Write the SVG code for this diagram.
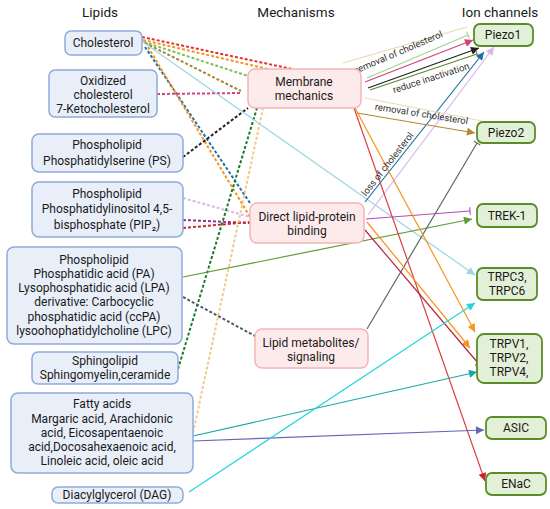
<svg xmlns="http://www.w3.org/2000/svg" width="550" height="509" viewBox="0 0 550 509">
<style>
text{font-family:Roboto,"Liberation Sans",sans-serif;fill:#1a1a1a;font-size:12px;text-anchor:middle}
.h{font-size:13.5px}
.lbl{font-size:9.5px;fill:#333}
.lip{fill:#e9eff9;stroke:#8eaadb;stroke-width:1.5}
.mec{fill:#fdeaea;stroke:#f5b5b5;stroke-width:1.5}
.ion{fill:#e3f0d8;stroke:#5b8c2a;stroke-width:1.8}
.d{fill:none;stroke-width:2;stroke-dasharray:3 2}
.s{fill:none;stroke-width:1.2}
</style>
<defs>
<marker id="aBk" viewBox="0 0 10 10" refX="10" refY="5" markerWidth="9" markerHeight="8" markerUnits="userSpaceOnUse" orient="auto"><path d="M0,0L10,5L0,10z" fill="#222"/></marker>
<marker id="aMg" viewBox="0 0 10 10" refX="10" refY="5" markerWidth="9" markerHeight="8" markerUnits="userSpaceOnUse" orient="auto"><path d="M0,0L10,5L0,10z" fill="#d63f7c"/></marker>
<marker id="aBl" viewBox="0 0 10 10" refX="10" refY="5" markerWidth="9" markerHeight="8" markerUnits="userSpaceOnUse" orient="auto"><path d="M0,0L10,5L0,10z" fill="#1f6fa0"/></marker>
<marker id="aLv" viewBox="0 0 10 10" refX="10" refY="5" markerWidth="9" markerHeight="8" markerUnits="userSpaceOnUse" orient="auto"><path d="M0,0L10,5L0,10z" fill="#d8b6ec"/></marker>
<marker id="aGd" viewBox="0 0 10 10" refX="10" refY="5" markerWidth="9" markerHeight="8" markerUnits="userSpaceOnUse" orient="auto"><path d="M0,0L10,5L0,10z" fill="#b8862e"/></marker>
<marker id="aOl" viewBox="0 0 10 10" refX="10" refY="5" markerWidth="9" markerHeight="8" markerUnits="userSpaceOnUse" orient="auto"><path d="M0,0L10,5L0,10z" fill="#5e9a36"/></marker>
<marker id="aLc" viewBox="0 0 10 10" refX="10" refY="5" markerWidth="9" markerHeight="8" markerUnits="userSpaceOnUse" orient="auto"><path d="M0,0L10,5L0,10z" fill="#9bd5e0"/></marker>
<marker id="aOr" viewBox="0 0 10 10" refX="10" refY="5" markerWidth="9" markerHeight="8" markerUnits="userSpaceOnUse" orient="auto"><path d="M0,0L10,5L0,10z" fill="#f7941d"/></marker>
<marker id="aRd" viewBox="0 0 10 10" refX="10" refY="5" markerWidth="9" markerHeight="8" markerUnits="userSpaceOnUse" orient="auto"><path d="M0,0L10,5L0,10z" fill="#c8262c"/></marker>
<marker id="aTl" viewBox="0 0 10 10" refX="10" refY="5" markerWidth="9" markerHeight="8" markerUnits="userSpaceOnUse" orient="auto"><path d="M0,0L10,5L0,10z" fill="#1aa5a8"/></marker>
<marker id="aPu" viewBox="0 0 10 10" refX="10" refY="5" markerWidth="9" markerHeight="8" markerUnits="userSpaceOnUse" orient="auto"><path d="M0,0L10,5L0,10z" fill="#6666b5"/></marker>
<marker id="aCy" viewBox="0 0 10 10" refX="10" refY="5" markerWidth="9" markerHeight="8" markerUnits="userSpaceOnUse" orient="auto"><path d="M0,0L10,5L0,10z" fill="#25d5d5"/></marker>
<marker id="tLg" viewBox="0 0 4 10" refX="2" refY="5" markerWidth="3" markerHeight="8" markerUnits="userSpaceOnUse" orient="auto"><path d="M2,0L2,10" stroke="#9ed88a" stroke-width="1.5"/></marker>
<marker id="tOl" viewBox="0 0 4 10" refX="2" refY="5" markerWidth="3" markerHeight="8" markerUnits="userSpaceOnUse" orient="auto"><path d="M2,0L2,10" stroke="#5b8a30" stroke-width="1.5"/></marker>
<marker id="tGy" viewBox="0 0 4 10" refX="2" refY="5" markerWidth="3" markerHeight="8" markerUnits="userSpaceOnUse" orient="auto"><path d="M2,0L2,10" stroke="#666" stroke-width="1.5"/></marker>
<marker id="tPk" viewBox="0 0 4 10" refX="2" refY="5" markerWidth="3" markerHeight="8" markerUnits="userSpaceOnUse" orient="auto"><path d="M2,0L2,10" stroke="#b44cb0" stroke-width="1.5"/></marker>
<marker id="tRd" viewBox="0 0 4 10" refX="2" refY="5" markerWidth="3" markerHeight="8" markerUnits="userSpaceOnUse" orient="auto"><path d="M2,0L2,10" stroke="#b8233a" stroke-width="1.5"/></marker>
<marker id="tTn" viewBox="0 0 4 10" refX="2" refY="5" markerWidth="3" markerHeight="8" markerUnits="userSpaceOnUse" orient="auto"><path d="M2,0L2,10" stroke="#e8d9b0" stroke-width="1.5"/></marker>
</defs>

<g id="headers">
<text class="h" x="100" y="17">Lipids</text>
<text class="h" x="296" y="17">Mechanisms</text>
<text class="h" x="500" y="17">Ion channels</text>
</g>

<g id="connectors">
<!-- dashed lipid -> mechanism -->
<line class="d" stroke="#e8302a" x1="142" y1="37" x2="292" y2="69"/>
<line class="d" stroke="#f7941d" x1="143" y1="40" x2="268" y2="69"/>
<line class="d" stroke="#7cc05a" x1="144" y1="42" x2="248" y2="76"/>
<line class="d" stroke="#a6862a" x1="145" y1="43" x2="241" y2="91"/>
<line class="d" stroke="#1f6fb5" x1="145" y1="47" x2="250" y2="203"/>
<line class="d" stroke="#f7941d" x1="148" y1="47" x2="250" y2="217"/>
<line class="d" stroke="#d6437a" x1="157" y1="94" x2="242" y2="93"/>
<line class="d" stroke="#222" x1="183" y1="157" x2="248" y2="108"/>
<line class="d" stroke="#dcb6e8" x1="183" y1="198" x2="250" y2="217"/>
<line class="d" stroke="#a0288c" x1="183" y1="220" x2="250" y2="223"/>
<line class="d" stroke="#c8262c" x1="183" y1="228" x2="250" y2="222"/>
<line class="d" stroke="#1d7a2a" x1="178" y1="369" x2="257" y2="108"/>
<line class="d" stroke="#f2c98a" x1="193" y1="433" x2="263" y2="108"/>
<line class="d" stroke="#555a70" x1="183" y1="297" x2="255" y2="336"/>
<!-- solid -->
<line class="s" stroke="#9bd5e0" x1="143" y1="42" x2="475" y2="275" marker-end="url(#aLc)"/>
<line class="s" stroke="#5e9a36" x1="183" y1="277" x2="472" y2="219" marker-end="url(#aOl)"/>
<line class="s" stroke="#e8d9b0" x1="343" y1="63" x2="467" y2="27"/>
<line class="s" stroke="#9ed88a" x1="367" y1="78" x2="468" y2="35" marker-end="url(#tLg)"/>
<line class="s" stroke="#d63f7c" x1="365" y1="82" x2="473" y2="40" marker-end="url(#aMg)"/>
<line class="s" stroke="#222" x1="368" y1="88" x2="479" y2="48" marker-end="url(#aBk)"/>
<line class="s" stroke="#5b8a30" x1="370" y1="90" x2="477" y2="54" marker-end="url(#tOl)"/>
<line class="s" stroke="#1f6fa0" x1="365" y1="202" x2="484" y2="52" marker-end="url(#aBl)"/>
<line class="s" stroke="#d8b6ec" x1="368" y1="215" x2="494" y2="47" marker-end="url(#aLv)"/>
<line class="s" stroke="#eadcb5" x1="365" y1="98" x2="482" y2="121"/>
<line class="s" stroke="#b8862e" x1="357" y1="113" x2="475" y2="133" marker-end="url(#aGd)"/>
<line class="s" stroke="#666" x1="367" y1="329" x2="477" y2="143" marker-end="url(#tGy)"/>
<line class="s" stroke="#b44cb0" x1="366" y1="219" x2="470" y2="211" marker-end="url(#tPk)"/>
<line class="s" stroke="#d9403e" x1="354" y1="108" x2="485" y2="481" marker-end="url(#aRd)"/>
<line class="s" stroke="#f7941d" x1="355" y1="108" x2="475" y2="332" marker-end="url(#aOr)"/>
<line class="s" stroke="#f7941d" x1="367" y1="222" x2="470" y2="348" marker-end="url(#aOr)"/>
<line class="s" stroke="#b8233a" x1="365" y1="230" x2="478" y2="363" marker-end="url(#tRd)"/>
<line class="s" stroke="#1aa5a8" x1="193" y1="436" x2="477" y2="372" marker-end="url(#aTl)"/>
<line class="s" stroke="#6666b5" x1="193" y1="441" x2="484" y2="430" marker-end="url(#aPu)"/>
<line class="s" stroke="#25d5d5" x1="189" y1="492" x2="475" y2="303" marker-end="url(#aCy)"/>
<!-- labels -->
<text class="lbl" transform="translate(400,55) rotate(-23)">removal of cholesterol</text>
<text class="lbl" transform="translate(432,81) rotate(-18)">reduce inactivation</text>
<text class="lbl" transform="translate(421,117) rotate(9)">removal of cholesterol</text>
<text class="lbl" transform="translate(390,166) rotate(-52)">loss of cholesterol</text>
</g>

<g id="lipid-cholesterol"><rect class="lip" x="65" y="31" width="77" height="24" rx="6"/><text x="103" y="47">Cholesterol</text></g>
<g id="lipid-oxidized"><rect class="lip" x="49" y="70" width="108" height="47" rx="6"/><text x="103" y="85">Oxidized</text><text x="103" y="99">cholesterol</text><text x="103" y="113">7-Ketocholesterol</text></g>
<g id="lipid-ps"><rect class="lip" x="32" y="134" width="151" height="38" rx="7"/><text x="107" y="149">Phospholipid</text><text x="107" y="165">Phosphatidylserine (PS)</text></g>
<g id="lipid-pip2"><rect class="lip" x="32" y="182" width="151" height="55" rx="7"/><text x="107" y="198">Phospholipid</text><text x="107" y="213">Phosphatidylinositol 4,5-</text><text x="107" y="229">bisphosphate (PIP₂)</text></g>
<g id="lipid-pa"><rect class="lip" x="7" y="247" width="175" height="97" rx="7"/><text x="94" y="264">Phospholipid</text><text x="94" y="278">Phosphatidic acid (PA)</text><text x="94" y="292">Lysophosphatidic acid (LPA)</text><text x="94" y="306">derivative: Carbocyclic</text><text x="94" y="321">phosphatidic acid (ccPA)</text><text x="94" y="335">lysoohophatidylcholine (LPC)</text></g>
<g id="lipid-sphingo"><rect class="lip" x="32" y="352" width="146" height="32" rx="6"/><text x="105" y="365">Sphingolipid</text><text x="105" y="379">Sphingomyelin,ceramide</text></g>
<g id="lipid-fatty"><rect class="lip" x="11" y="393" width="182" height="80" rx="7"/><text x="102" y="408">Fatty acids</text><text x="102" y="423">Margaric acid, Arachidonic</text><text x="102" y="437">acid, Eicosapentaenoic</text><text x="102" y="451">acid,Docosahexaenoic acid,</text><text x="102" y="465">Linoleic acid, oleic acid</text></g>
<g id="lipid-dag"><rect class="lip" x="52" y="487" width="131" height="16" rx="6"/><text x="117" y="499">Diacylglycerol (DAG)</text></g>

<g id="mech-membrane"><rect class="mec" x="248" y="69" width="113" height="39" rx="7"/><text x="304" y="86">Membrane</text><text x="304" y="100">mechanics</text></g>
<g id="mech-direct"><rect class="mec" x="250" y="203" width="114" height="40" rx="7"/><text x="307" y="221">Direct lipid-protein</text><text x="307" y="235">binding</text></g>
<g id="mech-metabolites"><rect class="mec" x="255" y="329" width="113" height="39" rx="7"/><text x="311" y="347">Lipid metabolites/</text><text x="311" y="361">signaling</text></g>

<g id="ion-piezo1"><rect class="ion" x="474" y="24" width="59" height="22" rx="6"/><text x="503" y="39">Piezo1</text></g>
<g id="ion-piezo2"><rect class="ion" x="477" y="122" width="58" height="21" rx="6"/><text x="506" y="137">Piezo2</text></g>
<g id="ion-trek1"><rect class="ion" x="477" y="204" width="60" height="23" rx="6"/><text x="507" y="220">TREK-1</text></g>
<g id="ion-trpc"><rect class="ion" x="477" y="268" width="60" height="32" rx="6"/><text x="507" y="281">TRPC3,</text><text x="507" y="295">TRPC6</text></g>
<g id="ion-trpv"><rect class="ion" x="477" y="334" width="65" height="49" rx="7"/><text x="509" y="348">TRPV1,</text><text x="509" y="362">TRPV2,</text><text x="509" y="376">TRPV4,</text></g>
<g id="ion-asic"><rect class="ion" x="486" y="417" width="60" height="22" rx="6"/><text x="516" y="432">ASIC</text></g>
<g id="ion-enac"><rect class="ion" x="486" y="473" width="60" height="22" rx="6"/><text x="516" y="488">ENaC</text></g>
</svg>
